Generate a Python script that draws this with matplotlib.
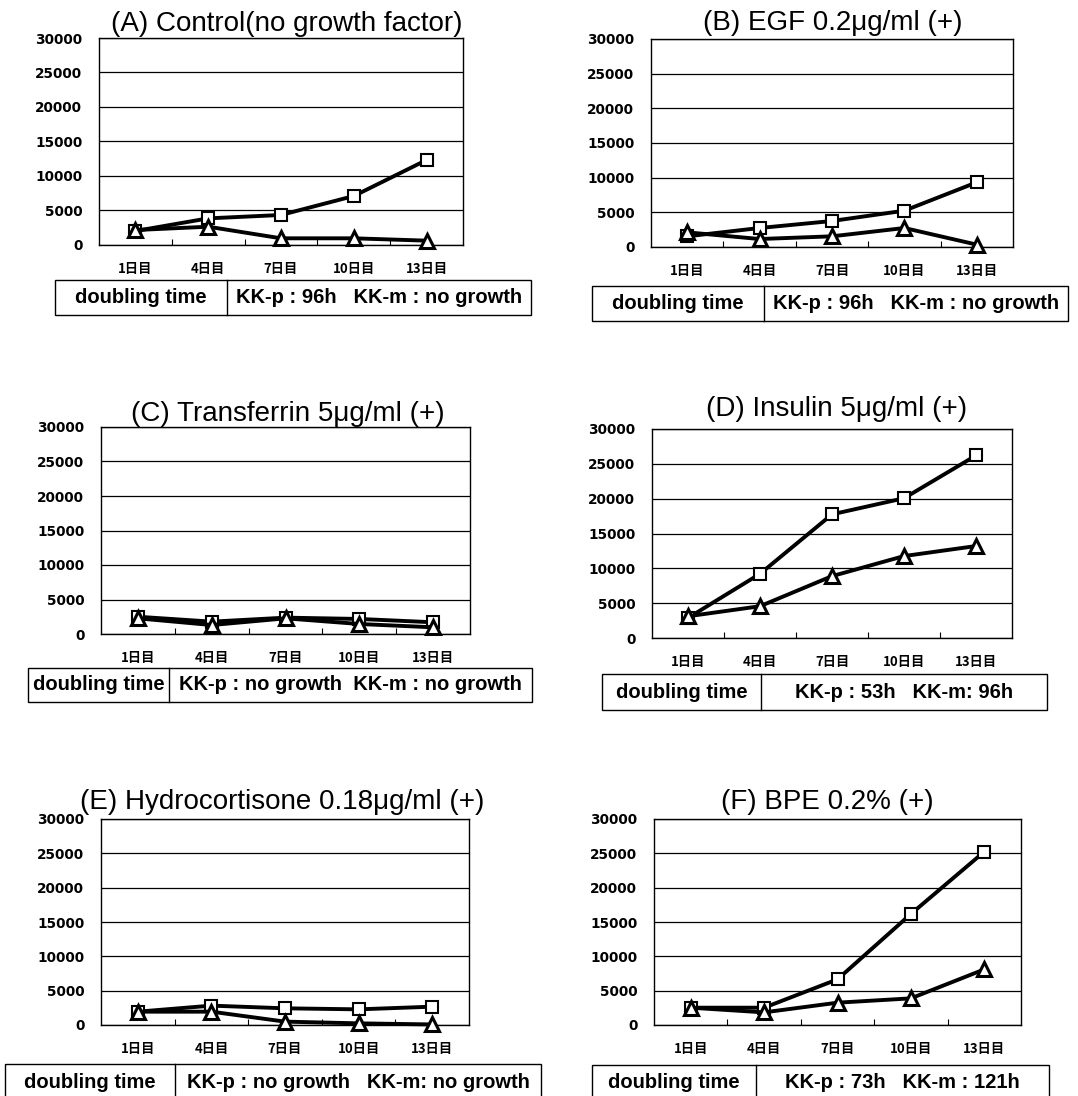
import matplotlib
matplotlib.use("Agg")
import matplotlib.pyplot as plt
from matplotlib.patches import Rectangle

# ---------------- data ----------------
days = ["1日目", "4日目", "7日目", "10日目", "13日目"]
y_ticks = [0, 5000, 10000, 15000, 20000, 25000, 30000]

titles = [
    "(A) Control(no growth factor)",
    "(B) EGF 0.2μg/ml (+)",
    "(C) Transferrin 5μg/ml (+)",
    "(D) Insulin 5μg/ml (+)",
    "(E) Hydrocortisone 0.18μg/ml (+)",
    "(F) BPE 0.2% (+)",
]

kkp_A = [2030, 3860, 4350, 7100, 12320]
kkm_A = [2170, 2650, 970, 970, 630]
kkp_B = [1540, 2740, 3750, 5240, 9330]
kkm_B = [2115, 1150, 1540, 2740, 340]
kkp_C = [2500, 1790, 2370, 2180, 1700]
kkm_C = [2270, 1300, 2270, 1450, 970]
kkp_D = [2880, 9210, 17750, 20060, 26200]
kkm_D = [3120, 4560, 8880, 11760, 13200]
kkp_E = [1940, 2820, 2430, 2280, 2670]
kkm_E = [1940, 1940, 490, 240, 80]
kkp_F = [2520, 2520, 6650, 16170, 25240]
kkm_F = [2520, 1840, 3250, 3880, 8100]

table_left = ["doubling time"] * 6
table_right = [
    "KK-p : 96h   KK-m : no growth",
    "KK-p : 96h   KK-m : no growth",
    "KK-p : no growth  KK-m : no growth",
    "KK-p : 53h   KK-m: 96h",
    "KK-p : no growth   KK-m: no growth",
    "KK-p : 73h   KK-m : 121h",
]

kkp_all = [kkp_A, kkp_B, kkp_C, kkp_D, kkp_E, kkp_F]
kkm_all = [kkm_A, kkm_B, kkm_C, kkm_D, kkm_E, kkm_F]

# ---------------- layout (pixels) ----------------
W, H = 1078, 1096
fig = plt.figure(figsize=(W / 100, H / 100), dpi=100)
fig.patch.set_facecolor("white")

# axes box: left, top, right, bottom ; title centre x, title baseline y
axes_px = [
    (99, 38, 463, 245, 287, 31),
    (651, 39, 1013, 247, 833, 30),
    (101, 427, 470, 634, 288, 421),
    (652, 429, 1012, 638, 837, 416),
    (101, 819, 469, 1025, 282, 809),
    (654, 819, 1021, 1025, 827, 809),
]
# table: left, top, right, bottom, divider
tables_px = [
    (55, 280, 531, 315, 227),
    (592, 286, 1068, 321, 764),
    (28, 668, 532, 702, 169),
    (602, 674, 1047, 710, 761),
    (5, 1064, 541, 1100, 175),
    (592, 1065, 1049, 1100, 756),
]


def rect(l, t, r, b):
    return [l / W, 1 - b / H, (r - l) / W, (b - t) / H]


xs = list(range(len(days)))

for i in range(6):
    l, t, r, b, tx, ty = axes_px[i]
    ax = fig.add_axes(rect(l, t, r, b))
    ax.plot(xs, kkp_all[i], color="black", lw=2.8, marker="s", ms=9,
            mfc="white", mec="black", mew=1.5, zorder=3, clip_on=False)
    ax.plot(xs, kkm_all[i], color="black", lw=2.8, marker="^", ms=10,
            mfc="white", mec="black", mew=2.2, zorder=4, clip_on=False)
    ax.set_xlim(-0.5, len(days) - 0.5)
    ax.set_ylim(0, 30000)
    ax.set_yticks(y_ticks)
    ax.set_yticklabels([str(v) for v in y_ticks], fontfamily="DejaVu Sans",
                       fontweight="bold", fontsize=9.8)
    ax.tick_params(axis="y", length=0, pad=12)
    ax.set_xticks(xs)
    ax.set_xticklabels(days, fontfamily=["Noto Sans CJK JP", "DejaVu Sans"],
                       fontweight="bold", fontsize=9.5)
    ax.tick_params(axis="x", which="major", length=0, pad=12)
    ax.set_xticks([k + 0.5 for k in range(len(days) - 1)], minor=True)
    ax.tick_params(axis="x", which="minor", direction="in", length=4,
                   width=0.8, color="black")
    ax.yaxis.grid(True, color="black", lw=0.9)
    ax.set_axisbelow(True)
    for s in ax.spines.values():
        s.set_color("black")
        s.set_linewidth(1.0)
    fig.text(tx / W, 1 - ty / H, titles[i], ha="center", va="baseline",
             fontsize=20, fontfamily="Liberation Sans")

    # doubling-time table
    tl, tt, tr, tb, dv = tables_px[i]
    tax = fig.add_axes(rect(tl, tt, tr, tb))
    tax.set_xlim(tl, tr)
    tax.set_ylim(tb, tt)
    tax.axis("off")
    tax.add_patch(Rectangle((tl, tt), tr - tl, tb - tt, fill=False,
                            edgecolor="black", lw=1.0, clip_on=False))
    tax.plot([dv, dv], [tt, tb], color="black", lw=1.0, clip_on=False)
    tax.text((tl + dv) / 2, (tt + tb) / 2, table_left[i], ha="center",
             va="center", fontsize=14.5, fontweight="bold",
             fontfamily="Liberation Sans")
    tax.text((dv + tr) / 2, (tt + tb) / 2, table_right[i], ha="center",
             va="center", fontsize=14.5, fontweight="bold",
             fontfamily="Liberation Sans")

fig.savefig("out.png", dpi=100, facecolor="white")
